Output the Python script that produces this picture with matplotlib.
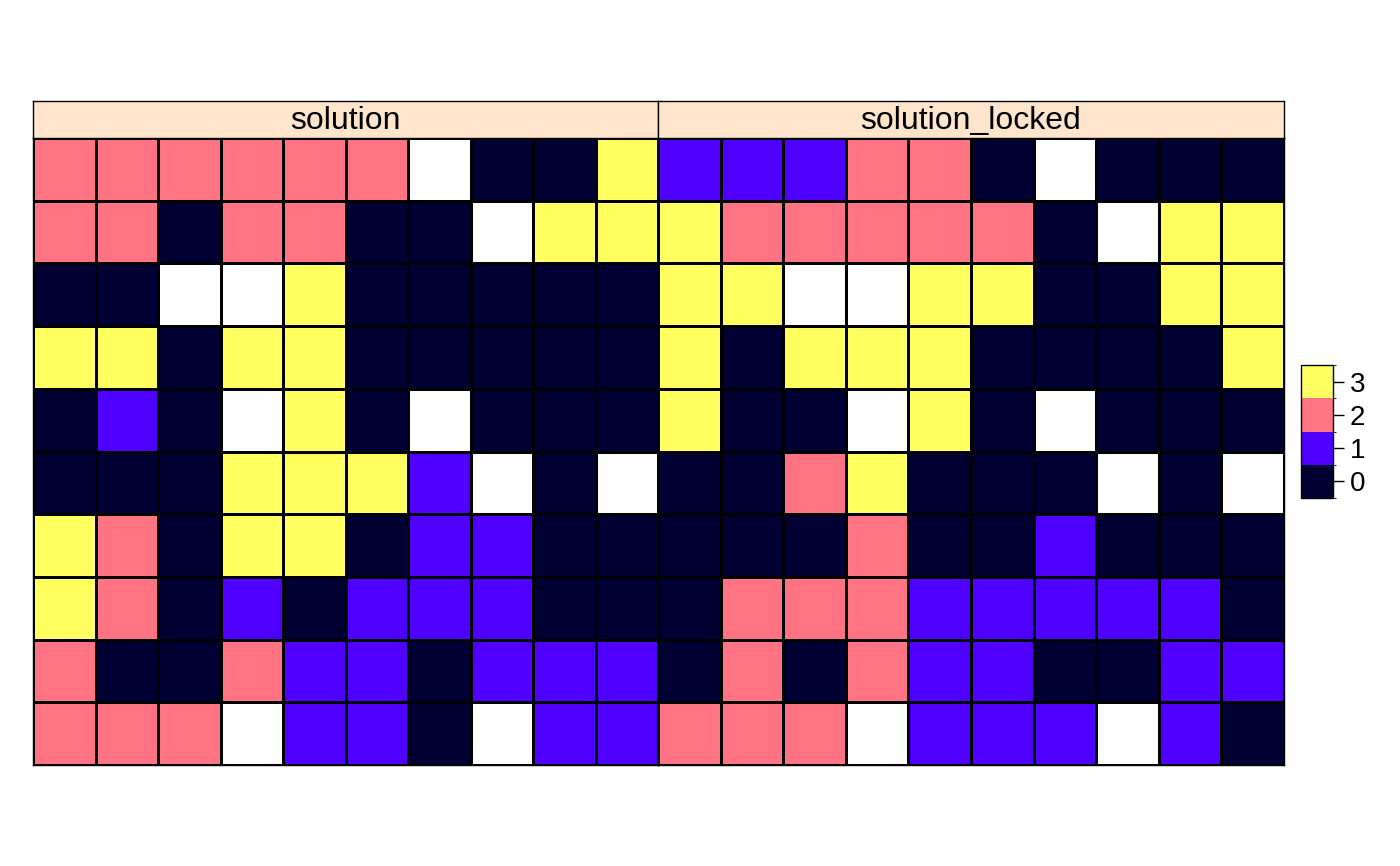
import numpy as np
import matplotlib
matplotlib.use("Agg")
from matplotlib import pyplot as plt
from matplotlib.colors import ListedColormap, BoundaryNorm

plt.rcParams["font.family"] = ["Liberation Sans", "DejaVu Sans"]

N = np.nan
panel_names = ["solution", "solution_locked"]
levels = [0, 1, 2, 3]
level_colors = ["#000033", "#5000FF", "#FF7383", "#FFFF60"]

# rows top to bottom, NA cells are white
solution = [
	[2, 2, 2, 2, 2, 2, N, 0, 0, 3],
	[2, 2, 0, 2, 2, 0, 0, N, 3, 3],
	[0, 0, N, N, 3, 0, 0, 0, 0, 0],
	[3, 3, 0, 3, 3, 0, 0, 0, 0, 0],
	[0, 1, 0, N, 3, 0, N, 0, 0, 0],
	[0, 0, 0, 3, 3, 3, 1, N, 0, N],
	[3, 2, 0, 3, 3, 0, 1, 1, 0, 0],
	[3, 2, 0, 1, 0, 1, 1, 1, 0, 0],
	[2, 0, 0, 2, 1, 1, 0, 1, 1, 1],
	[2, 2, 2, N, 1, 1, 0, N, 1, 1],
]
solution_locked = [
	[1, 1, 1, 2, 2, 0, N, 0, 0, 0],
	[3, 2, 2, 2, 2, 2, 0, N, 3, 3],
	[3, 3, N, N, 3, 3, 0, 0, 3, 3],
	[3, 0, 3, 3, 3, 0, 0, 0, 0, 3],
	[3, 0, 0, N, 3, 0, N, 0, 0, 0],
	[0, 0, 2, 3, 0, 0, 0, N, 0, N],
	[0, 0, 0, 2, 0, 0, 1, 0, 0, 0],
	[0, 2, 2, 2, 1, 1, 1, 1, 1, 0],
	[0, 2, 0, 2, 1, 1, 0, 0, 1, 1],
	[2, 2, 2, N, 1, 1, 1, N, 1, 0],
]

cmap = ListedColormap(level_colors)
cmap.set_bad("white")
norm = BoundaryNorm([-0.5, 0.5, 1.5, 2.5, 3.5], cmap.N)

W, H = 1400, 866
fig = plt.figure(figsize=(14, 8.66), dpi=100)

def fx(px):
	return px / W

def fy(py):
	return 1 - py / H

left, mid, right = 33, 658, 1284
top_strip, top_grid, bottom = 101, 138, 765

for i, (name, data) in enumerate(zip(panel_names, [solution, solution_locked])):
	x0 = [left, mid][i]
	x1 = [mid, right][i]
	ax = fig.add_axes([fx(x0), fy(bottom), fx(x1 - x0), fy(top_grid) - fy(bottom)])
	arr = np.ma.masked_invalid(np.array(data, dtype=float))
	ax.pcolormesh(np.arange(11), np.arange(11), arr[::-1], cmap=cmap, norm=norm,
		edgecolors="black", linewidth=1.0)
	ax.set_xlim(0, 10)
	ax.set_ylim(0, 10)
	ax.set_xticks([])
	ax.set_yticks([])
	for s in ax.spines.values():
		s.set_linewidth(1.0)
	# strip
	sax = fig.add_axes([fx(x0), fy(top_grid), fx(x1 - x0), fy(top_strip) - fy(top_grid)])
	sax.set_facecolor("#FFE5CC")
	sax.set_xticks([])
	sax.set_yticks([])
	for s in sax.spines.values():
		s.set_linewidth(1.0)
	sax.text(0.5, 0.47, name, ha="center", va="center", fontsize=23, transform=sax.transAxes)

# legend
cax = fig.add_axes([fx(1301), fy(498), fx(32), fy(365) - fy(498)])
cb = fig.colorbar(plt.cm.ScalarMappable(norm=norm, cmap=cmap), cax=cax, ticks=levels)
cb.outline.set_linewidth(1.0)
cax.tick_params(length=8, width=1, labelsize=20, pad=4)

plt.savefig("out.png", dpi=100)
